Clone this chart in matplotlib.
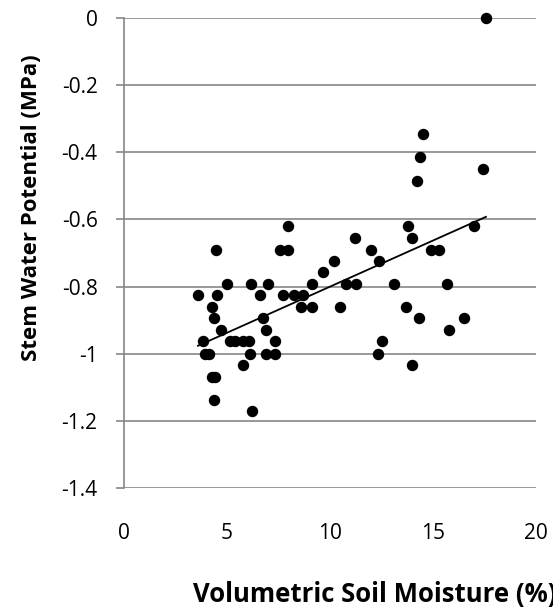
import numpy as np
import matplotlib.pyplot as plt

plt.rcParams['font.family'] = ['Open Sans', 'DejaVu Sans']

# volumetric soil moisture (%) and stem water potential (MPa)
moisture = [17.57, 14.5, 14.37, 17.43, 14.2, 13.8, 17.0, 7.97, 14.0, 11.2,
            4.47, 7.57, 7.97, 14.9, 15.3, 12.0, 12.4, 10.2, 9.67,
            5.0, 6.17, 6.99, 9.13, 10.8, 11.26, 13.1, 15.7,
            3.59, 4.51, 6.6, 7.72, 8.25, 8.69,
            4.27, 8.59, 9.13, 10.5, 13.7,
            4.37, 6.75, 14.3, 16.5,
            4.71, 6.89, 15.8,
            3.83, 5.15, 5.39, 5.78, 6.07, 7.33, 12.5,
            3.93, 4.13, 6.12, 6.89, 7.33, 12.33,
            5.78, 13.98, 4.27, 4.42, 4.37, 6.21]
potential = [0.0, -0.345, -0.413, -0.449, -0.485, -0.62, -0.62, -0.62, -0.654, -0.654,
             -0.69, -0.69, -0.69, -0.69, -0.69, -0.69, -0.723, -0.723, -0.758,
             -0.793, -0.793, -0.793, -0.793, -0.793, -0.793, -0.793, -0.793,
             -0.826, -0.826, -0.826, -0.826, -0.826, -0.826,
             -0.862, -0.862, -0.862, -0.862, -0.862,
             -0.895, -0.895, -0.895, -0.895,
             -0.93, -0.93, -0.93,
             -0.963, -0.963, -0.963, -0.963, -0.963, -0.963, -0.963,
             -1.0, -1.0, -1.0, -1.0, -1.0, -1.0,
             -1.034, -1.034, -1.07, -1.07, -1.138, -1.17]

x = np.array(moisture)
y = np.array(potential)

W, H = 553, 613
fig = plt.figure(figsize=(W / 100, H / 100), dpi=100)
ax = fig.add_axes([124 / W, 1 - 488 / H, (536 - 124) / W, (488 - 18) / H])

grey = '#868686'
ax.set_xlim(0, 20)
ax.set_ylim(-1.4, 0)
ax.set_yticks(np.arange(-1.4, 0.01, 0.2))
ax.set_yticklabels(['-1.4', '-1.2', '-1', '-0.8', '-0.6', '-0.4', '-0.2', '0'])
ax.set_xticks([0, 5, 10, 15, 20])
ax.grid(axis='y', color=grey, lw=1.2)
ax.set_axisbelow(True)
for s in ['top', 'right', 'bottom']:
    ax.spines[s].set_visible(False)
ax.spines['left'].set_color(grey)
ax.spines['left'].set_linewidth(1.2)
ax.tick_params(axis='y', length=6, width=1.2, color=grey, pad=13, labelsize=15)
ax.tick_params(axis='x', length=0, pad=25, labelsize=15)

ax.scatter(x, y, s=52, color='black', zorder=3, clip_on=False)

# linear trendline
k, b = np.polyfit(x, y, 1)
xt = np.array([x.min(), x.max()])
ax.plot(xt, k * xt + b, color='black', lw=1.3, zorder=4)

fig.text(32 / W, 1 - 208 / H, 'Stem Water Potential (MPa)', rotation=90,
         ha='center', va='center', fontsize=16, fontweight='bold')
fig.text(193 / W, 1 - 602 / H, 'Volumetric Soil Moisture (%)',
         ha='left', va='baseline', fontsize=18.5, fontweight='bold')

fig.savefig('out.png', dpi=100)
